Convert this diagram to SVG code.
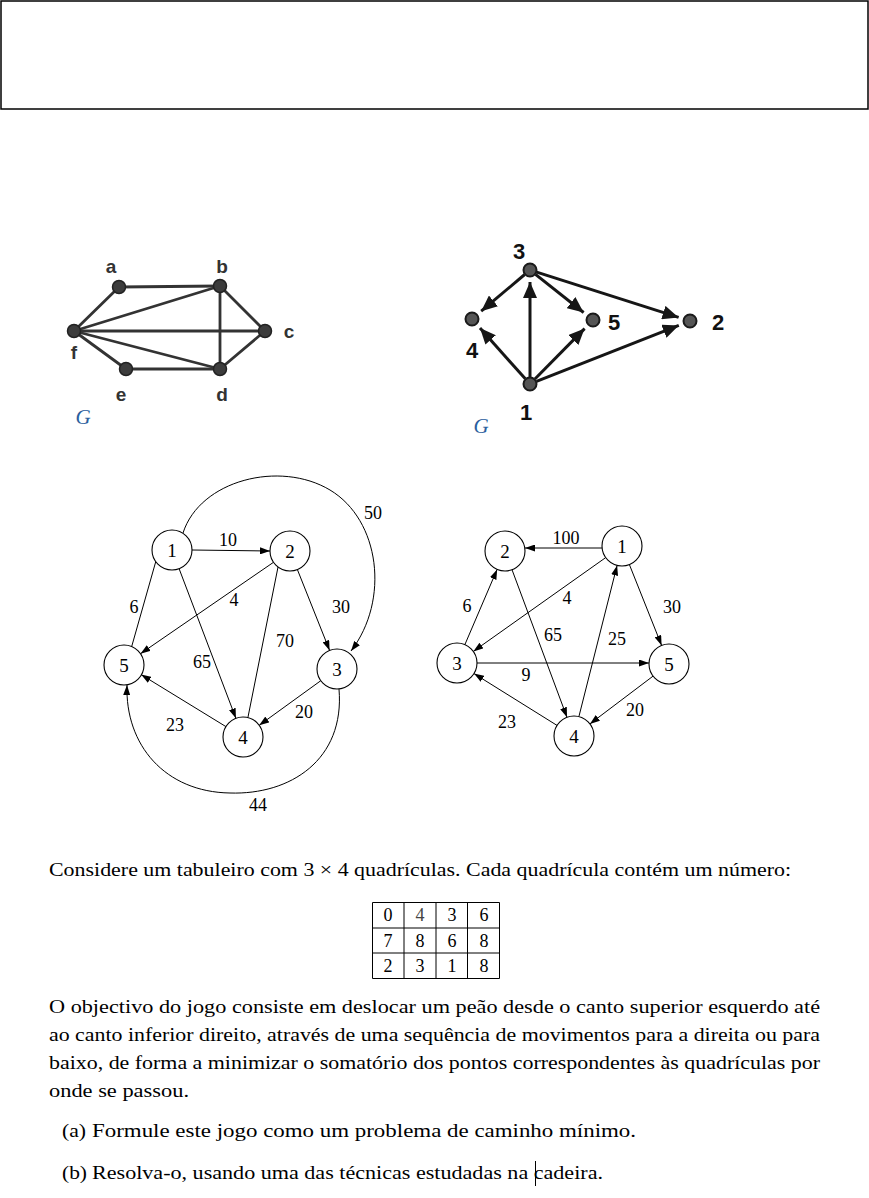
<svg xmlns="http://www.w3.org/2000/svg" width="869" height="1198" viewBox="0 0 869 1198">
<style>
.ug line{stroke:#333;stroke-width:2.8;stroke-linecap:round}
.ugn circle{fill:#3c3c3c;stroke:#222;stroke-width:1.5}
.ul{font-family:"Liberation Sans",Arial,sans-serif;font-weight:bold;font-size:19px;fill:#333;text-anchor:middle}
.dg line{stroke:#161616;stroke-width:3}
.dgn circle{fill:#555;stroke:#1a1a1a;stroke-width:2}
.dl{font-family:"Liberation Sans",Arial,sans-serif;font-weight:bold;font-size:22px;fill:#111;text-anchor:middle}
.gl{font-family:"Liberation Serif","Times New Roman",serif;font-style:italic;font-size:21px;fill:#2b5f9e;text-anchor:middle}
.wg line,.wg path{stroke:#000;stroke-width:1;fill:none}
.wn circle{fill:#fff;stroke:#000;stroke-width:1.1}
.nl{font-family:"Liberation Serif","Times New Roman",serif;font-size:19px;fill:#000;text-anchor:middle}
.el{font-family:"Liberation Serif","Times New Roman",serif;font-size:18px;fill:#000;text-anchor:middle}
.tx{font-family:"Liberation Serif","Times New Roman",serif;font-size:18.5px;fill:#000}
.tb line{stroke:#000;stroke-width:1}
.td{font-family:"Liberation Serif","Times New Roman",serif;font-size:18px;fill:#000;text-anchor:middle}
</style>
<defs>
<marker id="bigArrow" markerUnits="userSpaceOnUse" markerWidth="17" markerHeight="14" refX="16" refY="7" orient="auto">
<path d="M0,0 L16,7 L0,14 z" fill="#161616"/>
</marker>
<marker id="smallArrow" markerUnits="userSpaceOnUse" markerWidth="10" markerHeight="7" refX="10" refY="3.5" orient="auto">
<path d="M0,0 L10,3.5 L0,7 z" fill="#000"/>
</marker>
</defs>

<rect x="1" y="1" width="867" height="108" fill="none" stroke="#000" stroke-width="1.5"/>

<!-- Graph 1: undirected -->
<g id="graph1">
<g class="ug" id="graph1-edges">
<line x1="119" y1="287" x2="220" y2="286"/>
<line x1="119" y1="287" x2="74" y2="331"/>
<line x1="220" y1="286" x2="74" y2="331"/>
<line x1="74" y1="331" x2="265" y2="331"/>
<line x1="74" y1="331" x2="220" y2="369"/>
<line x1="74" y1="331" x2="126" y2="369"/>
<line x1="126" y1="369" x2="220" y2="369"/>
<line x1="220" y1="286" x2="220" y2="369"/>
<line x1="220" y1="286" x2="265" y2="331"/>
<line x1="265" y1="331" x2="220" y2="369"/>
</g>
<g class="ugn">
<g id="g1-a"><circle cx="119" cy="287" r="6.5"/><text class="ul" x="111" y="273">a</text></g>
<g id="g1-b"><circle cx="220" cy="286" r="6.5"/><text class="ul" x="222" y="273">b</text></g>
<g id="g1-c"><circle cx="265" cy="331" r="6.5"/><text class="ul" x="289" y="338">c</text></g>
<g id="g1-d"><circle cx="220" cy="369" r="6.5"/><text class="ul" x="222" y="401">d</text></g>
<g id="g1-e"><circle cx="126" cy="369" r="6.5"/><text class="ul" x="121" y="401">e</text></g>
<g id="g1-f"><circle cx="74" cy="331" r="6.5"/><text class="ul" x="74" y="359">f</text></g>
</g>
<text class="gl" x="83" y="424">G</text>
</g>

<!-- Graph 2: directed -->
<g id="graph2">
<g class="dg" id="graph2-edges">
<line x1="524.7" y1="274.5" x2="481.2" y2="311.2" marker-end="url(#bigArrow)"/>
<line x1="525.3" y1="378.8" x2="480" y2="328" marker-end="url(#bigArrow)"/>
<line x1="530" y1="377" x2="530" y2="282" marker-end="url(#bigArrow)"/>
<line x1="535.5" y1="274.4" x2="583.6" y2="312.5" marker-end="url(#bigArrow)"/>
<line x1="534.9" y1="379" x2="584.6" y2="328.6" marker-end="url(#bigArrow)"/>
<line x1="536.7" y1="272.1" x2="678.6" y2="317.4" marker-end="url(#bigArrow)"/>
<line x1="536.5" y1="381.4" x2="678.8" y2="325.4" marker-end="url(#bigArrow)"/>
</g>
<g class="dgn">
<g id="g2-1"><circle cx="530" cy="384" r="6.5"/><text class="dl" x="526" y="420">1</text></g>
<g id="g2-2"><circle cx="690" cy="321" r="6.5"/><text class="dl" x="718" y="330">2</text></g>
<g id="g2-3"><circle cx="530" cy="270" r="6.5"/><text class="dl" x="519" y="259">3</text></g>
<g id="g2-4"><circle cx="472" cy="319" r="6.5"/><text class="dl" x="472" y="358">4</text></g>
<g id="g2-5"><circle cx="593" cy="320" r="6.5"/><text class="dl" x="614" y="330">5</text></g>
</g>
<text class="gl" x="481" y="433">G</text>
</g>

<!-- Graph 3: weighted directed (left) -->
<g id="graph3">
<g class="wg" id="graph3-edges">
<line x1="192" y1="550" x2="270" y2="551" marker-end="url(#smallArrow)"/>
<line x1="297.4" y1="569.6" x2="329.6" y2="650.4" marker-end="url(#smallArrow)"/>
<line x1="273.5" y1="562.3" x2="140.5" y2="653.7" marker-end="url(#smallArrow)"/>
<line x1="131.7" y1="646.5" x2="164.3" y2="531.5" marker-end="url(#smallArrow)"/>
<line x1="179.1" y1="568.7" x2="235.9" y2="718.3" marker-end="url(#smallArrow)"/>
<line x1="247.9" y1="717.6" x2="285.1" y2="531.6" marker-end="url(#smallArrow)"/>
<line x1="320.8" y1="680.7" x2="259.2" y2="725.3" marker-end="url(#smallArrow)"/>
<line x1="225.9" y1="726.6" x2="141.1" y2="674.6" marker-end="url(#smallArrow)"/>
<path d="M183,533 C200,480 280,460 330,490 C380,520 390,600 351,651" marker-end="url(#smallArrow)"/>
<path d="M339,689 C345,760 290,795 230,793 C165,792 125,745 127,685" marker-end="url(#smallArrow)"/>
</g>
<g class="el">
<text x="228" y="546">10</text>
<text x="373" y="519">50</text>
<text x="341" y="613">30</text>
<text x="234" y="606">4</text>
<text x="134" y="613">6</text>
<text x="202" y="668">65</text>
<text x="285" y="647">70</text>
<text x="304" y="718">20</text>
<text x="175" y="731">23</text>
<text x="258" y="811">44</text>
</g>
<g class="wn">
<g id="g3-1"><circle cx="172" cy="550" r="20"/><text class="nl" x="172" y="557">1</text></g>
<g id="g3-2"><circle cx="290" cy="551" r="20"/><text class="nl" x="290" y="558">2</text></g>
<g id="g3-3"><circle cx="337" cy="669" r="20"/><text class="nl" x="337" y="676">3</text></g>
<g id="g3-4"><circle cx="243" cy="737" r="20"/><text class="nl" x="243" y="744">4</text></g>
<g id="g3-5"><circle cx="124" cy="665" r="20"/><text class="nl" x="124" y="672">5</text></g>
</g>
</g>

<!-- Graph 4: weighted directed (right) -->
<g id="graph4">
<g class="wg" id="graph4-edges">
<line x1="602" y1="548" x2="525" y2="548" marker-end="url(#smallArrow)"/>
<line x1="605.7" y1="557.6" x2="473.3" y2="651.4" marker-end="url(#smallArrow)"/>
<line x1="464.9" y1="644.6" x2="497.1" y2="569.4" marker-end="url(#smallArrow)"/>
<line x1="512" y1="569.7" x2="567" y2="717.3" marker-end="url(#smallArrow)"/>
<line x1="578.9" y1="716.6" x2="617.1" y2="565.4" marker-end="url(#smallArrow)"/>
<line x1="629.4" y1="564.6" x2="661.6" y2="645.4" marker-end="url(#smallArrow)"/>
<line x1="477" y1="663" x2="649" y2="663" marker-end="url(#smallArrow)"/>
<line x1="653.1" y1="676.1" x2="589.9" y2="723.9" marker-end="url(#smallArrow)"/>
<line x1="557" y1="725.4" x2="474" y2="673.6" marker-end="url(#smallArrow)"/>
</g>
<g class="el">
<text x="566" y="544">100</text>
<text x="567" y="604">4</text>
<text x="467" y="612">6</text>
<text x="553" y="641">65</text>
<text x="617" y="645">25</text>
<text x="672" y="613">30</text>
<text x="526" y="681">9</text>
<text x="635" y="716">20</text>
<text x="507" y="728">23</text>
</g>
<g class="wn">
<g id="g4-1"><circle cx="622" cy="546" r="20"/><text class="nl" x="622" y="553">1</text></g>
<g id="g4-2"><circle cx="505" cy="551" r="20"/><text class="nl" x="505" y="558">2</text></g>
<g id="g4-3"><circle cx="457" cy="663" r="20"/><text class="nl" x="457" y="670">3</text></g>
<g id="g4-4"><circle cx="574" cy="736" r="20"/><text class="nl" x="574" y="743">4</text></g>
<g id="g4-5"><circle cx="669" cy="664" r="20"/><text class="nl" x="669" y="671">5</text></g>
</g>
</g>

<!-- Text -->
<text class="tx" x="49" y="876" textLength="742" lengthAdjust="spacingAndGlyphs">Considere um tabuleiro com 3 × 4 quadrículas. Cada quadrícula contém um número:</text>

<g id="table">
<g class="tb">
<line x1="372.5" y1="902.5" x2="499.5" y2="902.5"/>
<line x1="372.5" y1="928" x2="499.5" y2="928"/>
<line x1="372.5" y1="953" x2="499.5" y2="953"/>
<line x1="372.5" y1="978.5" x2="499.5" y2="978.5"/>
<line x1="372.5" y1="902.5" x2="372.5" y2="978.5"/>
<line x1="404" y1="902.5" x2="404" y2="978.5"/>
<line x1="436" y1="902.5" x2="436" y2="978.5"/>
<line x1="467.5" y1="902.5" x2="467.5" y2="978.5"/>
<line x1="499.5" y1="902.5" x2="499.5" y2="978.5"/>
</g>
<g class="td">
<text x="388" y="921">0</text><text x="420" y="921" fill="#444">4</text><text x="452" y="921">3</text><text x="484" y="921">6</text>
<text x="388" y="947">7</text><text x="420" y="947">8</text><text x="452" y="947">6</text><text x="484" y="947">8</text>
<text x="388" y="972">2</text><text x="420" y="972">3</text><text x="452" y="972">1</text><text x="484" y="972">8</text>
</g>
</g>

<text class="tx" x="49" y="1013" textLength="771" lengthAdjust="spacingAndGlyphs">O objectivo do jogo consiste em deslocar um peão desde o canto superior esquerdo até</text>
<text class="tx" x="49" y="1041" textLength="771" lengthAdjust="spacingAndGlyphs">ao canto inferior direito, através de uma sequência de movimentos para a direita ou para</text>
<text class="tx" x="49" y="1069" textLength="771" lengthAdjust="spacingAndGlyphs">baixo, de forma a minimizar o somatório dos pontos correspondentes às quadrículas por</text>
<text class="tx" x="49" y="1097" textLength="140" lengthAdjust="spacingAndGlyphs">onde se passou.</text>

<text class="tx" x="62" y="1137" textLength="24" lengthAdjust="spacingAndGlyphs">(a)</text>
<text class="tx" x="92" y="1137" textLength="544" lengthAdjust="spacingAndGlyphs">Formule este jogo como um problema de caminho mínimo.</text>
<text class="tx" x="62" y="1179" textLength="25" lengthAdjust="spacingAndGlyphs">(b)</text>
<text class="tx" x="92" y="1179" textLength="511" lengthAdjust="spacingAndGlyphs">Resolva-o, usando uma das técnicas estudadas na cadeira.</text>
<line x1="535.5" y1="1161" x2="535.5" y2="1186" stroke="#000" stroke-width="1"/>
</svg>
